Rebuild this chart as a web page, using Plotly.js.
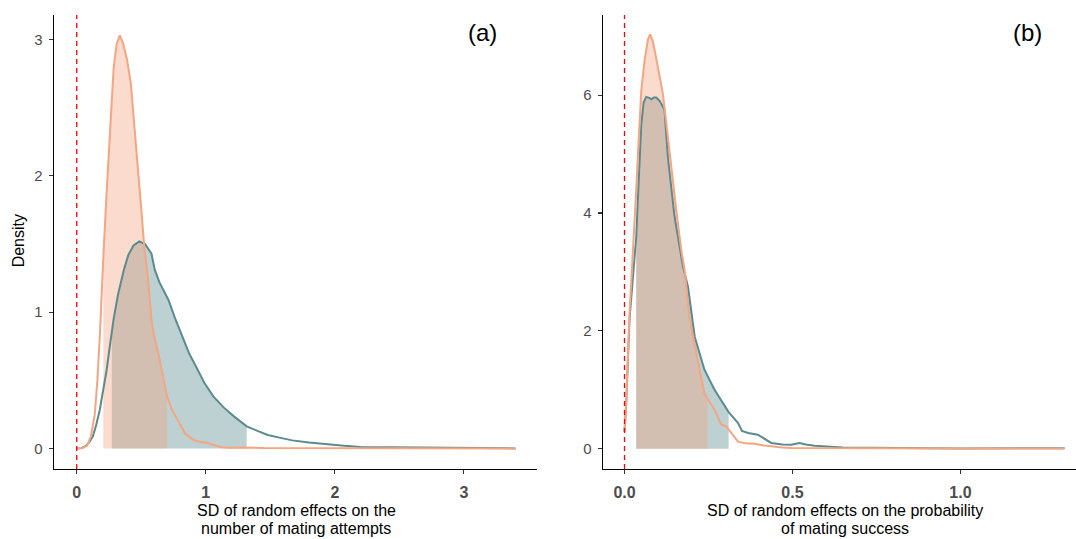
<!DOCTYPE html>
<html>
<head>
<meta charset="utf-8">
<script src="https://cdn.plot.ly/plotly-3.0.1.min.js"></script>
<style>
  html, body { margin: 0; padding: 0; background: #ffffff; overflow: hidden; }
  #chart { width: 1076px; height: 539px; }
</style>
</head>
<body>
<div id="chart"></div>
<script>
// ---------- Panel (a): SD of random effects on number of mating attempts ----------
const aOrangeX = [0.00, 0.04, 0.08, 0.11, 0.14, 0.16, 0.18, 0.193, 0.206, 0.23, 0.259, 0.286, 0.31, 0.334, 0.36, 0.39, 0.419, 0.445, 0.472, 0.50, 0.525, 0.552, 0.579, 0.605, 0.632, 0.665, 0.699, 0.74, 0.791, 0.84, 0.898, 0.95, 1.00, 1.06, 1.12, 1.19, 1.30, 1.45, 1.70, 2.00, 2.40, 2.80, 3.10, 3.40];
const aOrangeY = [0.00, 0.003, 0.02, 0.09, 0.25, 0.50, 0.84, 1.20, 1.40, 1.85, 2.31, 2.79, 2.97, 3.03, 2.97, 2.85, 2.68, 2.40, 2.07, 1.76, 1.46, 1.25, 0.94, 0.80, 0.70, 0.54, 0.383, 0.28, 0.188, 0.11, 0.066, 0.05, 0.042, 0.025, 0.01, 0.005, 0.008, 0.004, 0.003, 0.002, 0.002, 0.001, 0.002, 0.001];
const aOrangeCI = [0.206, 0.699];

const aTealX = [0.00, 0.04, 0.072, 0.10, 0.125, 0.15, 0.179, 0.205, 0.232, 0.258, 0.272, 0.285, 0.32, 0.365, 0.40, 0.44, 0.485, 0.53, 0.579, 0.605, 0.64, 0.675, 0.711, 0.76, 0.818, 0.87, 0.925, 0.99, 1.058, 1.14, 1.218, 1.317, 1.40, 1.48, 1.57, 1.67, 1.80, 1.94, 2.07, 2.20, 2.50, 2.87, 3.10, 3.40];
const aTealY = [0.00, 0.003, 0.02, 0.05, 0.09, 0.17, 0.285, 0.42, 0.578, 0.76, 0.85, 0.944, 1.13, 1.31, 1.42, 1.49, 1.52, 1.50, 1.43, 1.31, 1.22, 1.16, 1.09, 0.96, 0.82, 0.70, 0.60, 0.48, 0.383, 0.30, 0.236, 0.163, 0.13, 0.10, 0.08, 0.06, 0.045, 0.03, 0.02, 0.012, 0.008, 0.005, 0.003, 0.001];
const aTealCI = [0.272, 1.317];

const aTicks = [0, 1, 2, 3];
const aYTicks = [0, 1, 2, 3];

// ---------- Panel (b): SD of random effects on probability of mating success ----------
const bOrangeX = [0.00, 0.005, 0.015, 0.025, 0.032, 0.035, 0.040, 0.050, 0.060, 0.070, 0.0766, 0.085, 0.0993, 0.114, 0.125, 0.139, 0.155, 0.169, 0.179, 0.194, 0.214, 0.238, 0.248, 0.268, 0.288, 0.303, 0.32, 0.338, 0.36, 0.387, 0.41, 0.437, 0.47, 0.496, 0.55, 0.65, 0.80, 1.00, 1.15, 1.31];
const bOrangeY = [0.29, 0.77, 2.30, 3.25, 4.00, 4.40, 5.00, 6.08, 6.60, 6.95, 7.03, 6.90, 6.48, 6.03, 5.50, 4.78, 4.00, 3.37, 3.03, 2.19, 1.62, 0.94, 0.84, 0.66, 0.41, 0.38, 0.25, 0.12, 0.09, 0.085, 0.06, 0.04, 0.02, 0.01, 0.008, 0.005, 0.003, 0.002, 0.002, 0.001];
const bOrangeCI = [0.035, 0.248];

const bTealX = [0.00, 0.005, 0.015, 0.025, 0.035, 0.042, 0.05, 0.057, 0.0646, 0.075, 0.08, 0.087, 0.0944, 0.105, 0.119, 0.129, 0.149, 0.174, 0.189, 0.209, 0.238, 0.268, 0.31, 0.338, 0.35, 0.368, 0.397, 0.437, 0.47, 0.496, 0.521, 0.54, 0.566, 0.65, 0.80, 1.00, 1.31];
const bTealY = [0.29, 0.75, 2.20, 2.90, 3.60, 4.50, 5.50, 5.88, 5.97, 5.95, 5.93, 5.96, 5.96, 5.90, 5.75, 4.95, 3.94, 3.09, 2.75, 1.90, 1.34, 1.00, 0.62, 0.435, 0.30, 0.266, 0.237, 0.097, 0.07, 0.068, 0.097, 0.07, 0.05, 0.02, 0.01, 0.005, 0.008];
const bTealCI = [0.035, 0.31];

const bTicks = [0, 0.5, 1.0];
const bTickText = ["0.0", "0.5", "1.0"];
const bYTicks = [0, 2, 4, 6];

const labels = {
  a: "(a)", b: "(b)",
  yTitle: "Density",
  aTitle: ["SD of random effects on the", "number of mating attempts"],
  bTitle: ["SD of random effects on the probability", "of mating success"]
};

// ---------- styling ----------
const ORANGE = "#F4A582";
const ORANGE_FILL = "rgba(244,165,130,0.4)";
const TEAL = "#5B8B8E";
const TEAL_FILL = "rgba(91,139,142,0.4)";
const FONT = '"Liberation Sans", Arial, sans-serif';

function subset(xs, ys, ci) {
  const ox = [], oy = [];
  xs.forEach((x, i) => { if (x >= ci[0] - 1e-9 && x <= ci[1] + 1e-9) { ox.push(x); oy.push(ys[i]); } });
  return { x: ox, y: oy };
}
function fillTrace(xs, ys, ci, color, xa, ya) {
  const s = subset(xs, ys, ci);
  return { type: "scatter", mode: "lines", x: s.x, y: s.y, fill: "tozeroy", fillcolor: color,
           line: { width: 0, color: color }, xaxis: xa, yaxis: ya, hoverinfo: "skip", showlegend: false };
}
function lineTrace(xs, ys, color, xa, ya) {
  return { type: "scatter", mode: "lines", x: xs, y: ys, line: { color: color, width: 2 },
           xaxis: xa, yaxis: ya, showlegend: false };
}

const traces = [
  fillTrace(aTealX, aTealY, aTealCI, TEAL_FILL, "x", "y"),
  fillTrace(aOrangeX, aOrangeY, aOrangeCI, ORANGE_FILL, "x", "y"),
  lineTrace(aTealX, aTealY, TEAL, "x", "y"),
  lineTrace(aOrangeX, aOrangeY, ORANGE, "x", "y"),
  fillTrace(bTealX, bTealY, bTealCI, TEAL_FILL, "x2", "y2"),
  fillTrace(bOrangeX, bOrangeY, bOrangeCI, ORANGE_FILL, "x2", "y2"),
  lineTrace(bTealX, bTealY, TEAL, "x2", "y2"),
  lineTrace(bOrangeX, bOrangeY, ORANGE, "x2", "y2")
];

// pixel helpers (plot area: x 54..1076, y 15..469.3)
const L = 54, R = 0, T = 15, B = 69.7, W = 1076, H = 539;
const pw = W - L - R, ph = H - T - B;
const px = v => (v - L) / pw;
const py = v => (H - B - v) / ph;

const xCommon = {
  showgrid: false, zeroline: false, showline: true, linecolor: "#000000", linewidth: 1.3,
  ticks: "outside", ticklen: 4, tickwidth: 1.1, tickcolor: "#333333",
  tickfont: { family: FONT, size: 16, color: "#4D4D4D", weight: 700 }, ticklabelstandoff: 4
};
const yCommon = {
  showgrid: false, zeroline: false, showline: true, linecolor: "#000000", linewidth: 1.3,
  ticks: "outside", ticklen: 4, tickwidth: 1.1, tickcolor: "#333333",
  tickfont: { family: FONT, size: 15, color: "#4D4D4D" }, ticklabelstandoff: 3
};

const layout = {
  width: W, height: H,
  margin: { l: L, r: R, t: T, b: B, pad: 0 },
  paper_bgcolor: "#ffffff", plot_bgcolor: "#ffffff",
  showlegend: false,
  font: { family: FONT, color: "#000000" },
  xaxis: Object.assign({}, xCommon, { domain: [0, px(537)], range: [-0.176, 3.566], tickvals: aTicks, anchor: "y" }),
  yaxis: Object.assign({}, yCommon, { domain: [0, 1], range: [-0.15, 3.18], tickvals: aYTicks, anchor: "x" }),
  xaxis2: Object.assign({}, xCommon, { domain: [px(603), 1], range: [-0.064, 1.344], tickvals: bTicks, ticktext: bTickText, anchor: "y2" }),
  yaxis2: Object.assign({}, yCommon, { domain: [0, 1], range: [-0.345, 7.36], tickvals: bYTicks, anchor: "x2" }),
  shapes: [
    { type: "line", xref: "x", yref: "y domain", x0: 0, x1: 0, y0: 0, y1: 1,
      line: { color: "#FF0000", width: 1.3, dash: "5px,4px" } },
    { type: "line", xref: "x2", yref: "y2 domain", x0: 0, x1: 0, y0: 0, y1: 1,
      line: { color: "#FF0000", width: 1.3, dash: "5px,4px" } }
  ],
  annotations: [
    { text: labels.a, xref: "paper", yref: "paper", x: px(482), y: py(33), xanchor: "center", yanchor: "middle",
      showarrow: false, font: { family: FONT, size: 24, color: "#000000" } },
    { text: labels.b, xref: "paper", yref: "paper", x: px(1027), y: py(33), xanchor: "center", yanchor: "middle",
      showarrow: false, font: { family: FONT, size: 24, color: "#000000" } },
    { text: labels.yTitle, xref: "paper", yref: "paper", x: px(18.5), y: py(241), xanchor: "center", yanchor: "middle",
      textangle: -90, showarrow: false, font: { family: FONT, size: 16, color: "#000000" } },
    { text: labels.aTitle[0], xref: "paper", yref: "paper", x: px(296), y: py(510.7), xanchor: "center", yanchor: "middle",
      showarrow: false, font: { family: FONT, size: 16, color: "#000000" } },
    { text: labels.aTitle[1], xref: "paper", yref: "paper", x: px(296), y: py(529.3), xanchor: "center", yanchor: "middle",
      showarrow: false, font: { family: FONT, size: 16, color: "#000000" } },
    { text: labels.bTitle[0], xref: "paper", yref: "paper", x: px(845), y: py(510.7), xanchor: "center", yanchor: "middle",
      showarrow: false, font: { family: FONT, size: 16, color: "#000000" } },
    { text: labels.bTitle[1], xref: "paper", yref: "paper", x: px(845), y: py(529.3), xanchor: "center", yanchor: "middle",
      showarrow: false, font: { family: FONT, size: 16, color: "#000000" } }
  ]
};

Plotly.newPlot("chart", traces, layout, { displayModeBar: false, staticPlot: true });
</script>
</body>
</html>
